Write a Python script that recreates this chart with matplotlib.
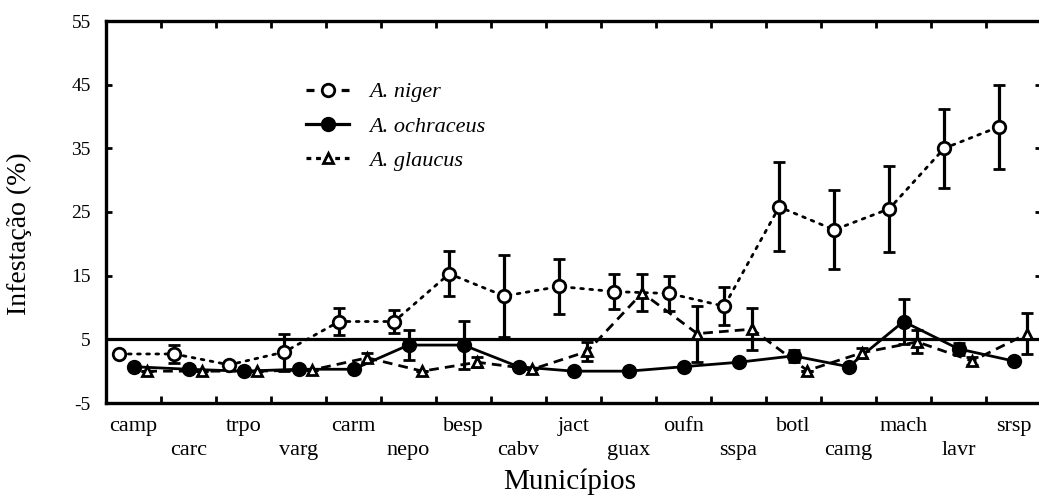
import matplotlib
matplotlib.use('Agg')
import matplotlib.pyplot as plt
import numpy as np
from matplotlib.lines import Line2D

plt.rcParams['font.family'] = ['Liberation Serif', 'DejaVu Serif']
plt.rcParams['axes.unicode_minus'] = False

municipios = ['camp', 'carc', 'trpo', 'varg', 'carm', 'nepo', 'besp', 'cabv', 'jact',
              'guax', 'oufn', 'sspa', 'botl', 'camg', 'mach', 'lavr', 'srsp']

niger = [2.7, 2.7, 1.0, 3.0, 7.8, 7.8, 15.3, 11.8, 13.3, 12.5, 12.2, 10.2, 25.8, 22.2, 25.5, 35.0, 38.4]
niger_err = [0.5, 1.4, 0.5, 2.9, 2.1, 1.8, 3.5, 6.4, 4.3, 2.8, 2.7, 3.0, 7.0, 6.2, 6.8, 6.2, 6.6]

ochraceus = [0.7, 0.3, 0.0, 0.3, 0.3, 4.1, 4.1, 0.7, 0.0, 0.0, 0.7, 1.4, 2.4, 0.7, 7.8, 3.5, 1.6]
ochraceus_err = [0, 0, 0, 0, 0, 2.3, 3.8, 0, 0, 0, 0, 0.5, 0.9, 0, 3.5, 0.9, 0]

glaucus = [0.0, 0.0, 0.0, 0.2, 2.1, 0.0, 1.4, 0.3, 3.1, 12.3, 5.9, 6.6, 0.1, 2.9, 4.6, 1.6, 5.9]
glaucus_err = [0, 0, 0, 0, 0.7, 0, 0.8, 0, 1.5, 2.9, 4.4, 3.3, 0, 0.8, 1.8, 0.6, 3.2]

limite = 5

fig = plt.figure(figsize=(10.39, 5.04), dpi=100)
ax = fig.add_axes([106 / 1039, 1 - 403 / 504, 935 / 1039, 382 / 504])

x = np.arange(len(municipios))

common = dict(color='black', lw=2, mew=2, elinewidth=2.3, capsize=4, capthick=2.3)
ax.errorbar(x - 0.26, niger, yerr=niger_err, fmt='o', ls=(0, (1, 2.3)), mfc='white', ms=9,
            dash_capstyle='round', zorder=4, **common)
ax.errorbar(x, ochraceus, yerr=ochraceus_err, fmt='o', ls='-', mfc='black', ms=9,
            zorder=3, **common)
ax.errorbar(x + 0.25, glaucus, yerr=glaucus_err, fmt='^', ls=(0, (3.5, 2.2)), mfc='white',
            ms=7, zorder=3, **common)

ax.axhline(limite, color='black', lw=2.3, zorder=2)

ax.set_xlim(-0.5, len(municipios) - 0.5)
ax.set_ylim(-5, 55)
ax.set_yticks(np.arange(-5, 56, 10))
ax.tick_params(axis='y', direction='in', length=4, width=2, labelsize=14, pad=11,
               left=True, right=True)

ax.set_xticks(x)
ax.set_xticklabels([m if i % 2 == 0 else '\n' + m for i, m in enumerate(municipios)])
ax.set_xticks(np.arange(-0.5, len(municipios)), minor=True)
ax.tick_params(axis='x', which='major', length=0, labelsize=16, pad=10)
ax.tick_params(axis='x', which='minor', direction='in', length=5, width=2,
               top=True, bottom=True)
for lbl in ax.get_xticklabels():
    lbl.set_linespacing(1.35)

for s in ax.spines.values():
    s.set_linewidth(2.4)

ax.set_ylabel('Infestação (%)', fontsize=20)
ax.yaxis.set_label_coords(-0.079, 0.442)
ax.set_xlabel('Municípios', fontsize=21)
ax.xaxis.set_label_coords(0.496, -0.172)

handles = [
    Line2D([], [], color='black', lw=2.3, ls=(0, (2.5, 3)), marker='o', ms=9, mew=2, mfc='white'),
    Line2D([], [], color='black', lw=2.3, ls='-', marker='o', ms=9, mew=2, mfc='black'),
    Line2D([], [], color='black', lw=2.3, ls=(0, (1.5, 1.5)), marker='^', ms=7, mew=2, mfc='white'),
]
ax.legend(handles, ['A. niger', 'A. ochraceus', 'A. glaucus'], loc='upper left',
          bbox_to_anchor=(0.1925, 0.893), frameon=False, handlelength=1.95,
          handletextpad=0.9, labelspacing=0.62, prop={'style': 'italic', 'size': 16})

fig.savefig('out.png', dpi=100)
